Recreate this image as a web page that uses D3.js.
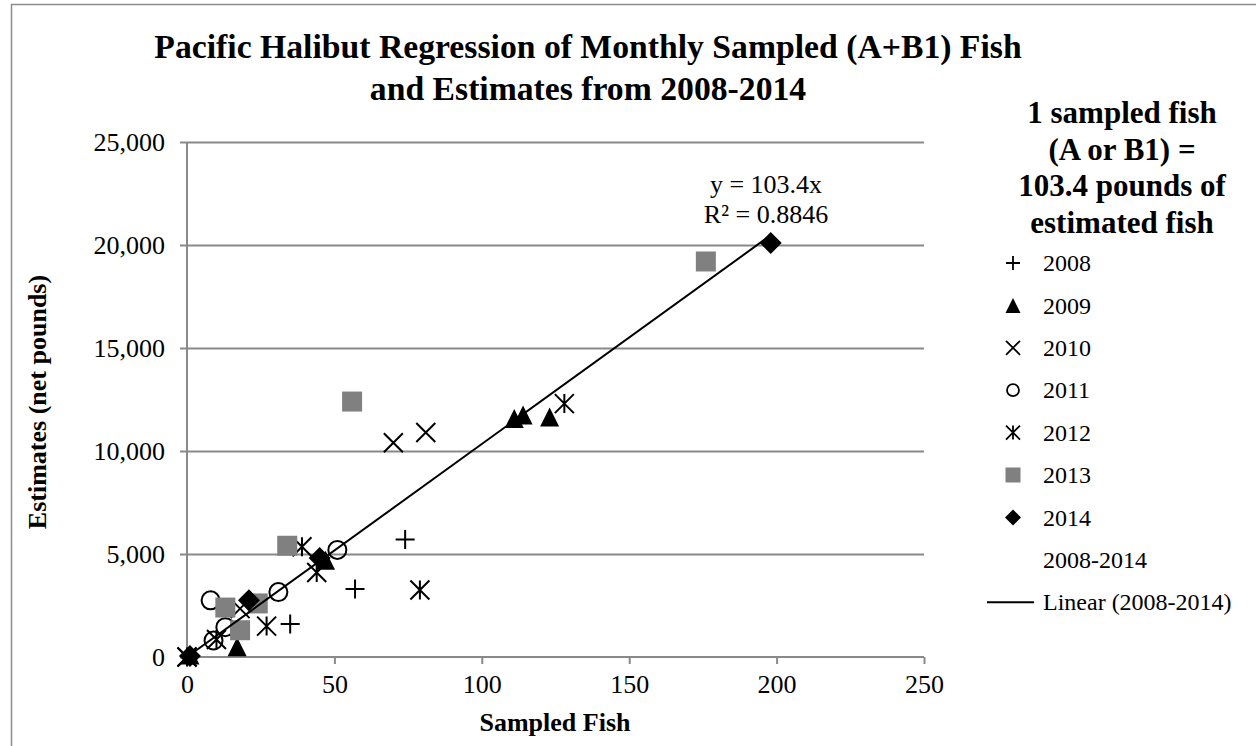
<!DOCTYPE html>
<html>
<head>
<meta charset="utf-8">
<script src="https://cdn.jsdelivr.net/npm/d3@7"></script>
<style>
  html, body { margin: 0; padding: 0; background: #fff; }
  svg { display: block; }
  text { font-family: "Liberation Serif", "Times New Roman", serif; fill: #000; }
</style>
</head>
<body>
<svg id="chart" width="1256" height="746"></svg>
<script>
// ---- Data ----
const titleLines = ["Pacific Halibut Regression of Monthly Sampled (A+B1) Fish", "and Estimates from 2008-2014"];
const legendTitleLines = ["1 sampled fish", "(A or B1) =", "103.4 pounds of", "estimated fish"];
const xTicks = [0, 50, 100, 150, 200, 250];
const yTicks = [0, 5000, 10000, 15000, 20000, 25000];
const seriesNames = ["2008", "2009", "2010", "2011", "2012", "2013", "2014"];
const s2008 = [[74, 5700], [57, 3300], [35, 1600]];
const s2009 = [[111, 11580], [114, 11750], [123, 11650], [47, 4700], [17, 500], [1, 100]];
const s2010 = [[70, 10400], [81, 10900], [18, 2350], [0, 0]];
const s2011 = [[51, 5200], [31, 3150], [8, 2750], [13, 1450], [9, 800]];
const s2012 = [[128, 12300], [79, 3250], [39, 5350], [44, 4100], [27, 1500], [10, 850], [0, 0]];
const s2013 = [[176, 19200], [56, 12400], [34, 5400], [13, 2400], [24, 2600], [18, 1300]];
const s2014 = [[198, 20100], [45, 4800], [21, 2750], [1, 50]];
const slope = 103.4;
const rSquared = 0.8846;
const equationLines = ["y = 103.4x", "R\u00B2 = 0.8846"];
const allSeries = [s2008, s2009, s2010, s2011, s2012, s2013, s2014];
const symbolKinds = ["plus", "triangle", "x", "circle", "star", "square", "diamond"];

// ---- Layout ----
const svg = d3.select("#chart");
const x = d3.scaleLinear().domain([0, 250]).range([187, 924]);
const y = d3.scaleLinear().domain([0, 25000]).range([657, 142]);
const gridColor = "#898989";

// outer border
svg.append("rect").attr("x", 11.5).attr("y", 4.5).attr("width", 1300).attr("height", 800)
  .attr("fill", "none").attr("stroke", "#8c8c8c").attr("stroke-width", 1.5);

// title
svg.append("text").attr("text-anchor", "middle").attr("font-weight", "bold").attr("font-size", 33.7)
  .selectAll("tspan").data(titleLines).join("tspan")
  .attr("x", 588).attr("y", (d, i) => 58 + i * 42).text(d => d);

// gridlines
svg.append("g").selectAll("line").data(yTicks.filter(t => t > 0)).join("line")
  .attr("x1", x(0)).attr("x2", x(250)).attr("y1", d => Math.round(y(d)) + 0.5).attr("y2", d => Math.round(y(d)) + 0.5)
  .attr("stroke", gridColor).attr("stroke-width", 2);

// axes
const yAxis = svg.append("g").attr("transform", `translate(${x(0)},0)`)
  .call(d3.axisLeft(y).tickValues(yTicks).tickFormat(d3.format(",")).tickSize(7).tickPadding(15));
const xAxis = svg.append("g").attr("transform", `translate(0,${y(0)})`)
  .call(d3.axisBottom(x).tickValues(xTicks).tickFormat(d3.format("d")).tickSize(7).tickPadding(11));
[yAxis, xAxis].forEach(g => {
  g.selectAll("path.domain").attr("stroke", gridColor).attr("stroke-width", 2);
  g.selectAll(".tick line").attr("stroke", gridColor).attr("stroke-width", 2);
  g.selectAll(".tick text").attr("font-family", "Liberation Serif, serif").attr("font-size", 26).attr("fill", "#000");
});
yAxis.select("path.domain").attr("d", `M0,${y(25000)}V${y(0)}`);
xAxis.select("path.domain").attr("d", `M${x(0)},0H${x(250)}`);

// axis titles
svg.append("text").attr("text-anchor", "middle").attr("font-weight", "bold").attr("font-size", 26)
  .attr("transform", `translate(46,402) rotate(-90)`).text("Estimates (net pounds)");
svg.append("text").attr("text-anchor", "middle").attr("font-weight", "bold").attr("font-size", 26)
  .attr("x", 555).attr("y", 731).text("Sampled Fish");

// marker drawing
function drawMarker(g, kind, s) {
  const h = s / 2;
  if (kind === "plus") {
    g.append("path").attr("d", `M${-h},0H${h}M0,${-h}V${h}`).attr("stroke", "#000").attr("stroke-width", 2).attr("fill", "none");
  } else if (kind === "x") {
    g.append("path").attr("d", `M${-h},${-h}L${h},${h}M${-h},${h}L${h},${-h}`).attr("stroke", "#000").attr("stroke-width", 2).attr("fill", "none");
  } else if (kind === "star") {
    g.append("path").attr("d", `M${-h},${-h}L${h},${h}M${-h},${h}L${h},${-h}M0,${-h}V${h}`).attr("stroke", "#000").attr("stroke-width", 2).attr("fill", "none");
  } else if (kind === "circle") {
    g.append("circle").attr("r", h - 1).attr("fill", "none").attr("stroke", "#000").attr("stroke-width", 2);
  } else if (kind === "triangle") {
    g.append("path").attr("d", `M0,${-h}L${h},${h}L${-h},${h}Z`).attr("fill", "#000");
  } else if (kind === "square") {
    g.append("rect").attr("x", -h).attr("y", -h).attr("width", s).attr("height", s).attr("fill", "#808080");
  } else if (kind === "diamond") {
    g.append("path").attr("d", `M0,${-h}L${h},0L0,${h}L${-h},0Z`).attr("fill", "#000");
  }
}

// points
const sizes = { plus: 19, triangle: 19, x: 19, circle: 20, star: 19, square: 20, diamond: 22 };
allSeries.forEach((data, si) => {
  const kind = symbolKinds[si];
  const gs = svg.append("g").attr("class", "series-" + seriesNames[si]);
  data.forEach(d => {
    const g = gs.append("g").attr("transform", `translate(${x(d[0])},${y(d[1])})`);
    drawMarker(g, kind, sizes[kind]);
  });
});

// trendline (2008-2014)
const allX = allSeries.flat().map(d => d[0]);
const xMin = d3.min(allX), xMax = d3.max(allX);
svg.append("line").attr("x1", x(xMin)).attr("y1", y(slope * xMin)).attr("x2", x(xMax)).attr("y2", y(slope * xMax))
  .attr("stroke", "#000").attr("stroke-width", 2);

// equation label
svg.append("text").attr("text-anchor", "middle").attr("font-size", 26)
  .selectAll("tspan").data(equationLines).join("tspan")
  .attr("x", 766).attr("y", (d, i) => 193 + i * 30).text(d => d);

// legend title
svg.append("text").attr("text-anchor", "middle").attr("font-weight", "bold").attr("font-size", 31)
  .selectAll("tspan").data(legendTitleLines).join("tspan")
  .attr("x", 1122).attr("y", (d, i) => 123 + i * 36.5).text(d => d);

// legend entries
const legendY0 = 263, legendStep = 42.4;
const legendSizes = { plus: 14, triangle: 15, x: 14, circle: 14, star: 14, square: 15, diamond: 16 };
seriesNames.forEach((name, i) => {
  const cy = legendY0 + i * legendStep;
  const g = svg.append("g").attr("transform", `translate(1013,${cy})`);
  const kind = symbolKinds[i];
  const s = legendSizes[kind];
  const h = s / 2;
  if (kind === "circle") {
    g.append("circle").attr("r", h - 1).attr("fill", "none").attr("stroke", "#000").attr("stroke-width", 1.8);
  } else {
    drawMarker(g, kind, s);
    g.selectAll("path").filter(function () { return d3.select(this).attr("fill") === "none"; }).attr("stroke-width", 1.8);
  }
  svg.append("text").attr("x", 1043).attr("y", cy).attr("dy", "0.34em").attr("font-size", 24).text(name);
});
const cyAll = legendY0 + 7 * legendStep;
svg.append("text").attr("x", 1043).attr("y", cyAll).attr("dy", "0.34em").attr("font-size", 24).text("2008-2014");
const cyLin = legendY0 + 8 * legendStep;
svg.append("line").attr("x1", 987).attr("x2", 1034).attr("y1", cyLin).attr("y2", cyLin).attr("stroke", "#000").attr("stroke-width", 2);
svg.append("text").attr("x", 1043).attr("y", cyLin).attr("dy", "0.34em").attr("font-size", 24).text("Linear (2008-2014)");
</script>
</body>
</html>
